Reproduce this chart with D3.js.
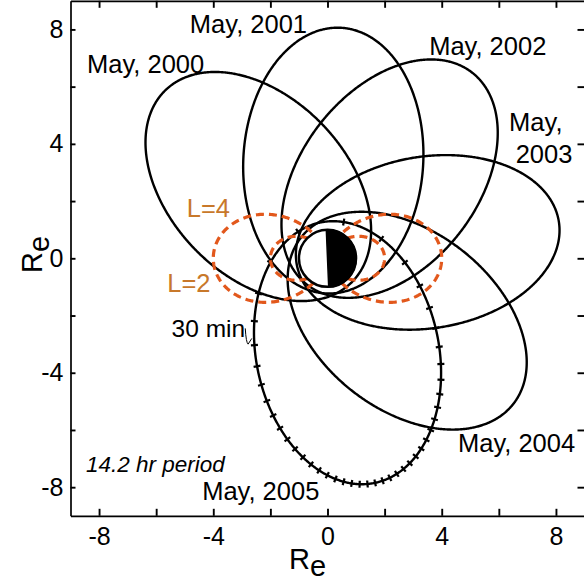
<!DOCTYPE html>
<html>
<head>
<meta charset="utf-8">
<script src="https://cdn.jsdelivr.net/npm/d3@7"></script>
<style>
  body { margin: 0; background: #fff; }
  svg { display: block; }
  text { font-family: Arial, "Liberation Sans", Helvetica, sans-serif; fill: #000; }
</style>
</head>
<body>
<svg id="chart" width="584" height="581"></svg>
<script>
// Orbit tracks, one per year, as ellipses with Earth's centre at the focus (Earth radii)
const orbitNames      = ["May, 2000", "May, 2001", "May, 2002", "May, 2003", "May, 2004", "May, 2005"];
const apogeeDirection = [134, 86.6, 52, 9, -38, -78];        // degrees from +x
const semiMajorAxis   = [4.68, 4.65, 4.7, 4.65, 4.72, 4.65]; // Re
const semiMinorAxis   = [3.12, 3.15, 3.1, 3.0, 3.12, 3.2];   // Re

// Dipole field lines drawn on both sides of Earth
const fieldLineL      = [4, 2];
const fieldLineLabels = ["L=4", "L=2"];

// Time marks along the latest orbit
const orbitPeriodHours = 14.2;
const ticksPerOrbit    = 43;

// Axes
const axisTicks      = [-8, -6, -4, -2, 0, 2, 4, 6, 8];
const axisTickLabels = [-8, -4, 0, 4, 8];

const svg = d3.select("#chart");
const x = d3.scaleLinear().domain([-9, 9]).range([70.5, 584.5]);
const y = d3.scaleLinear().domain([-9, 9]).range([515.8, 0.8]);

const fmt = d => axisTickLabels.includes(d) ? (d < 0 ? "-" + Math.abs(d) : String(d)) : "";

function styleAxis(g) {
  g.attr("font-family", null).attr("font-size", null);
  g.selectAll("path.domain").attr("stroke", "#000").attr("stroke-width", 1.7);
  g.selectAll(".tick line").attr("stroke", "#000").attr("stroke-width", 1.9);
  g.selectAll(".tick text").attr("fill", "#000").style("font-size", "25px");
}

svg.append("g").attr("transform", `translate(0,${y(-9)})`)
  .call(d3.axisBottom(x).tickValues(axisTicks).tickSize(-7).tickSizeOuter(0).tickPadding(11).tickFormat(fmt))
  .call(styleAxis);
svg.append("g").attr("transform", `translate(${x(-9)},0)`)
  .call(d3.axisLeft(y).tickValues(axisTicks).tickSize(-5).tickSizeOuter(0).tickPadding(7).tickFormat(fmt))
  .call(styleAxis);
svg.append("g").attr("transform", `translate(0,${y(9)})`)
  .call(d3.axisTop(x).tickValues(axisTicks).tickSize(-7).tickSizeOuter(0).tickFormat(""))
  .call(styleAxis);
svg.append("g").attr("transform", `translate(${x(9)},0)`)
  .call(d3.axisRight(y).tickValues(axisTicks).tickSize(-7).tickSizeOuter(0).tickFormat(""))
  .call(styleAxis)
  .call(g => g.select("path.domain").remove());

// Axis titles
const bottomTitle = svg.append("text").attr("x", 289).attr("y", 569).style("font-size", "29px");
bottomTitle.append("tspan").text("R");
bottomTitle.append("tspan").attr("dy", 7).text("e");

const leftTitle = svg.append("text")
  .attr("transform", `translate(42,273) rotate(-90)`).style("font-size", "29px");
leftTitle.append("tspan").text("R");
leftTitle.append("tspan").attr("dy", 7).text("e");

// Orbit geometry
function orbitFrame(i) {
  const a = semiMajorAxis[i], b = semiMinorAxis[i];
  const c = Math.sqrt(a * a - b * b);
  const phi = apogeeDirection[i] * Math.PI / 180;
  const u = [Math.cos(phi), Math.sin(phi)];     // toward apogee
  const v = [-Math.sin(phi), Math.cos(phi)];
  return { a, b, c, e: c / a, u, v };
}
// position from eccentric anomaly measured from perigee
function orbitPoint(f, E) {
  const along = -f.a * (Math.cos(E) - f.e);   // perigee lies along -u
  const across = f.b * Math.sin(E);
  return [along * f.u[0] + across * f.v[0], along * f.u[1] + across * f.v[1]];
}

const line = d3.line().x(d => x(d[0])).y(d => y(d[1])).curve(d3.curveLinearClosed);
const orbitLayer = svg.append("g");
orbitNames.forEach((name, i) => {
  const f = orbitFrame(i);
  const pts = d3.range(0, 720).map(k => orbitPoint(f, k / 720 * 2 * Math.PI));
  orbitLayer.append("path").attr("d", line(pts))
    .attr("fill", "none").attr("stroke", "#000").attr("stroke-width", 2.4);
});

// Time marks on the May 2005 orbit, evenly spaced in time (Kepler's equation)
{
  const f = orbitFrame(orbitNames.length - 1);
  const marks = [];
  for (let k = 0; k < ticksPerOrbit; k++) {
    const M = Math.PI + 2 * Math.PI * k / ticksPerOrbit;
    let E = M;
    for (let it = 0; it < 30; it++) E -= (E - f.e * Math.sin(E) - M) / (1 - f.e * Math.cos(E));
    const p = orbitPoint(f, E);
    const dAlong = f.a * Math.sin(E), dAcross = f.b * Math.cos(E);
    const t = [dAlong * f.u[0] + dAcross * f.v[0], dAlong * f.u[1] + dAcross * f.v[1]];
    marks.push({ p, t });
  }
  const sx = x(1) - x(0), sy = y(0) - y(1);
  orbitLayer.selectAll("line.mark").data(marks).join("line").attr("class", "mark")
    .each(function (d) {
      const tx = d.t[0] * sx, ty = -d.t[1] * sy;
      const n = Math.hypot(tx, ty);
      const nx = -ty / n * 3.5, ny = tx / n * 3.5;
      const px = x(d.p[0]), py = y(d.p[1]);
      d3.select(this).attr("x1", px - nx).attr("y1", py - ny).attr("x2", px + nx).attr("y2", py + ny);
    })
    .attr("stroke", "#000").attr("stroke-width", 2.2);
}

// Dipole field lines r = L cos^2(lat)
const fieldLayer = svg.append("g");
fieldLineL.forEach(L => {
  const lat0 = Math.acos(Math.sqrt(1 / L));
  [1, -1].forEach(side => {
    const pts = d3.range(0, 201).map(k => {
      const lat = -lat0 + 2 * lat0 * k / 200;
      const r = L * Math.cos(lat) ** 2;
      return [side * r * Math.cos(lat), r * Math.sin(lat)];
    });
    fieldLayer.append("path")
      .attr("d", d3.line().x(d => x(d[0])).y(d => y(d[1]))(pts))
      .attr("fill", "none").attr("stroke", "#E2581C").attr("stroke-width", 3.2)
      .attr("stroke-dasharray", "8,5");
  });
});

// Earth: outline with the night side filled
{
  const R = x(1) - x(0);
  const cx = x(0), cy = y(0);
  const tilt = -2.4 * Math.PI / 180;
  const top = [cx + R * Math.sin(tilt), cy - R * Math.cos(tilt)];
  const bot = [cx - R * Math.sin(tilt), cy + R * Math.cos(tilt)];
  svg.append("circle").attr("cx", cx).attr("cy", cy).attr("r", R)
    .attr("fill", "#fff").attr("stroke", "#000").attr("stroke-width", 2.5);
  svg.append("path")
    .attr("d", `M${top[0]},${top[1]} A${R},${R} 0 0 1 ${bot[0]},${bot[1]} Z`)
    .attr("fill", "#000").attr("stroke", "#000").attr("stroke-width", 1.5);
}

// Labels
const orbitLabelLayout = [
  [[-8.42, 6.48, "May, 2000"]],
  [[-4.82, 7.88, "May, 2001"]],
  [[3.56, 7.10, "May, 2002"]],
  [[6.36, 4.45, "May,"], [6.59, 3.34, "2003"]],
  [[4.57, -6.76, "May, 2004"]],
  [[-4.39, -8.45, "May, 2005"]]
];
orbitLabelLayout.forEach(lines => lines.forEach(([lx, ly, txt]) => {
  svg.append("text").attr("x", x(lx)).attr("y", y(ly)).style("font-size", "25.5px").text(txt);
}));

const fieldLabelLayout = [[-4.93, 1.45], [-5.61, -1.17]];
fieldLineLabels.forEach((txt, i) => {
  svg.append("text").attr("x", x(fieldLabelLayout[i][0])).attr("y", y(fieldLabelLayout[i][1]))
    .style("font-size", "25.5px").style("fill", "#C8782A").text(txt);
});

svg.append("text").attr("x", x(-8.46)).attr("y", y(-7.46))
  .style("font-size", "22.5px").style("font-style", "italic").text(orbitPeriodHours + " hr period");

svg.append("text").attr("x", x(-5.46)).attr("y", y(-2.74))
  .style("font-size", "24.5px").text("30 min");
// leader from the label to its mark
svg.append("path")
  .attr("d", `M${x(-2.88)},${y(-2.45)} Q${x(-2.85)},${y(-2.95)} ${x(-2.78)},${y(-3.0)} L${x(-2.65)},${y(-2.8)}`)
  .attr("fill", "none").attr("stroke", "#000").attr("stroke-width", 1);
</script>
</body>
</html>
